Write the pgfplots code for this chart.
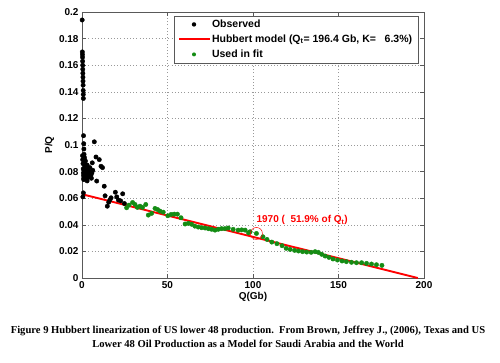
\documentclass[border=0pt]{standalone}
\usepackage{pgfplots}
\pgfplotsset{compat=1.18}
\usepackage{fontspec}
\setmainfont{Liberation Sans}
\newfontfamily\capfont{Liberation Serif}
\definecolor{mgreen}{rgb}{0.08,0.55,0.08}
\begin{document}
\begin{tikzpicture}
\useasboundingbox (-82pt,-84pt) rectangle (418pt,278pt);
\begin{axis}[
  at={(0pt,0pt)}, anchor=south west,
  scale only axis, width=342pt, height=266pt,
  xmin=0, xmax=200, ymin=0, ymax=0.2,
  xtick={0,50,100,150,200},
  ytick={0,0.02,0.04,0.06,0.08,0.1,0.12,0.14,0.16,0.18,0.2},
  scaled y ticks=false,
  yticklabel style={/pgf/number format/fixed,/pgf/number format/precision=2},
  /pgf/number format/assume math mode=true,
  tick label style={font=\bfseries\fontsize{10}{12}\selectfont},
  label style={font=\bfseries\fontsize{10}{12}\selectfont},
  xlabel={Q(Gb)}, ylabel={P/Q},
  xlabel style={yshift=3pt},
  ylabel style={yshift=-2pt},
  tick align=inside, tick pos=both,
  major tick length=4pt,
  axis line style={black!65, line width=0.8pt},
  every tick/.style={black!65},
  grid=major,
  major grid style={black!40, line width=0.5pt, dash pattern=on 0.8pt off 2.4pt},
  legend style={at={(rel axis cs:0.985,0.986)}, anchor=north east,
    font=\bfseries\fontsize{10.5}{12.5}\selectfont, draw=black!65,
    row sep=0pt, inner xsep=4pt, inner ysep=1pt,
    nodes={text height=8pt, text depth=2.5pt, inner ysep=2.25pt, inner xsep=2.5pt}},
  legend cell align=left,
]
\addplot[only marks, mark=*, mark size=2.2pt, black,
  legend image code/.code={\path[draw=none] (0pt,-3pt) rectangle (31pt,3pt); \fill[black, draw=none] (15.5pt,0pt) circle (2.2pt);}] coordinates {
(0.1,0.194)(0.2,0.170)(0.25,0.168)(0.3,0.166)(0.35,0.163)(0.4,0.160)(0.45,0.157)
(0.5,0.154)(0.55,0.151)(0.6,0.148)(0.65,0.145)(0.7,0.141)(0.75,0.138)(0.8,0.135)
(0.9,0.107)(1.0,0.101)(1.1,0.097)(1.2,0.093)(1.3,0.091)(1.4,0.090)(1.5,0.088)
(1.6,0.086)(1.8,0.084)(2.0,0.079)(2.2,0.078)(2.4,0.081)(2.6,0.077)(2.8,0.075)
(3.0,0.073)(3.2,0.079)(3.4,0.082)(3.6,0.080)(3.8,0.078)(4.0,0.076)(4.3,0.080)
(4.6,0.083)(4.9,0.079)(5.2,0.077)(5.5,0.075)(5.8,0.079)(6.0,0.0866)(6.3,0.081)
(0.3,0.092)(0.4,0.089)(0.6,0.086)(0.7,0.082)(0.8,0.079)(0.9,0.077)(1.0,0.075)
(0.5,0.061)(0.8,0.064)(1.0,0.074)(2.0,0.088)(3.0,0.085)
(7.2,0.1024)(8.2,0.091)(8.6,0.0729)(10.1,0.089)(11.1,0.084)(12.0,0.083)(13.0,0.069)
(13.5,0.0618)(14.8,0.054)(15.6,0.057)(16.3,0.0587)(17.0,0.0603)(19.5,0.0645)
(20.3,0.061)(21.3,0.0586)(22.6,0.058)(23.8,0.0633)(24.8,0.056)
};
\addlegendentry{Observed}
\addplot[red, line width=1.9pt,
  legend image code/.code={\path[draw=none] (0pt,-3pt) rectangle (31pt,3pt); \fill[red, draw=none] (0pt,-0.95pt) rectangle (31pt,0.95pt);}] coordinates {(0,0.063)(196.4,0)};
\addlegendentry{Hubbert model (Q\textsubscript{t}= 196.4 Gb, K=\ \ \ 6.3\%)}
\addplot[only marks, mark=*, mark size=2.2pt, mgreen, mark options={draw=mgreen,fill=mgreen},
  legend image code/.code={\path[draw=none] (0pt,-3pt) rectangle (31pt,3pt); \fill[mgreen, draw=none] (15.5pt,0pt) circle (2.0pt);}] coordinates {
(26.1,0.0528)(27.5,0.0548)(29.6,0.0568)(31.0,0.0553)(32.4,0.0531)(33.9,0.054)
(35.4,0.0531)(37.3,0.0553)(38.8,0.0473)(40.7,0.0486)(42.7,0.0523)(44.2,0.0515)
(45.6,0.0503)(47.5,0.0495)(50.2,0.0468)(52.1,0.0478)(53.9,0.048)(55.8,0.048)
(57.9,0.0453)(60.3,0.0406)(62.2,0.0411)(64.1,0.0404)(66.0,0.039)(68.0,0.0383)
(70.0,0.0378)(72.0,0.0376)(73.9,0.0371)(75.8,0.0366)(77.8,0.036)(79.7,0.0366)
(81.6,0.0371)(83.6,0.0371)(85.5,0.0376)(88.4,0.0366)(91.3,0.036)(93.4,0.0362)
(95.4,0.036)(97.4,0.034)(98.3,0.0348)(102.0,0.0335)(105.8,0.031)(108.2,0.029)
(111.0,0.027)(114.0,0.0258)(117.0,0.0243)(119.4,0.0223)(121.7,0.0215)(124.3,0.0208)
(126.6,0.0203)(129.0,0.0198)(131.4,0.0195)(134.0,0.0193)(136.3,0.0198)(138.2,0.0193)
(140.2,0.0178)(142.2,0.0165)(144.4,0.0155)(146.8,0.0143)(149.4,0.0135)(152.1,0.0128)
(154.6,0.0123)(157.6,0.0118)(160.5,0.0115)(163.5,0.0115)(166.4,0.011)(169.3,0.0105)
(172.2,0.010)(175.4,0.0095)
};
\addlegendentry{Used in fit}
\addplot[only marks, mark=o, mark size=6pt, red, line width=0.5pt, forget plot] coordinates {(102.0,0.0335)};
\node[anchor=west, inner sep=0pt, text=red, font=\bfseries\fontsize{10}{12}\selectfont]
  at (axis cs:102,0.0436) {1970 (\ \ 51.9\% of Q\textsubscript{t})};
\end{axis}
\node[font=\capfont\bfseries\fontsize{10.6}{13.5}\selectfont, align=center] at (166pt,-59pt)
  {Figure 9 Hubbert linearization of US lower 48 production.\ \ From Brown, Jeffrey J., (2006), Texas and US\\
   Lower 48 Oil Production as a Model for Saudi Arabia and the World};
\end{tikzpicture}
\end{document}
